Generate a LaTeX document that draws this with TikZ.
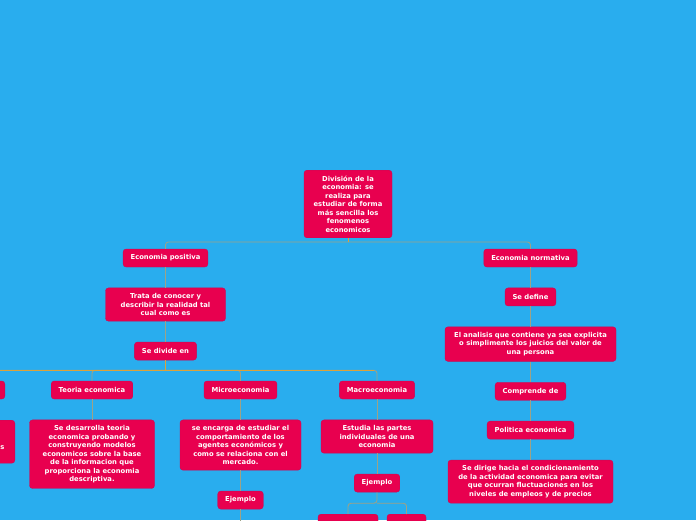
\documentclass[tikz,border=0pt]{standalone}
\usepackage{fontspec}
\newfontfamily\mapfont{DejaVu Sans}
\usetikzlibrary{positioning, calc}
\definecolor{skyblue}{HTML}{29ADEE}
\definecolor{topicred}{HTML}{E8004F}
\definecolor{topicedge}{HTML}{C80A55}
\definecolor{linkgray}{HTML}{9EA286}
\definecolor{linkorange}{HTML}{DCA23A}
\tikzset{
  topic/.style={draw=topicedge, fill=topicred, rounded corners=3pt, text=white, align=center,
    font=\mapfont\bfseries\fontsize{6.8}{8.5}\selectfont, inner xsep=7.5pt, inner ysep=5.5pt, minimum height=18pt},
  link/.style={draw=linkgray, line width=0.9pt, rounded corners=3pt},
  stub/.style={draw=linkorange, line width=0.9pt},
  cut/.style={topic, minimum width=#1}
}

\begin{document}
\begin{tikzpicture}[x=1pt, y=1pt, node distance=20.5pt]
\useasboundingbox (0,0) rectangle (696,-520);
\fill[skyblue] (0,0) rectangle (696,-520);
% root
\node[cut=88pt] (root) at (348,-204) {Divisi\'on de la\\economia: se\\realiza para\\estudiar de forma\\m\'as sencilla los\\fenomenos\\economicos};
% positive branch
\node[topic] (pos) at (165.5,-258) {Economia positiva};
\node[cut=120pt, below=of pos] (trata) {Trata de conocer y\\describir la realidad tal\\cual como es};
\node[topic, below=of trata] (divide) {Se divide en};
\node[cut=80pt, anchor=east] (left1) at (5,-390) {};
\node[topic] (teoria) at (92,-390) {Teoria economica};
\node[topic] (micro) at (240.5,-390) {Microeconomia};
\node[topic] (macro) at (377,-390) {Macroeconomia};
\node[cut=100pt, minimum height=43pt, anchor=north east] (left2) at (15,-420) {};
\node[text=white, inner sep=0pt, font=\mapfont\bfseries\fontsize{6.8}{8.5}\selectfont] (lefts) at (2.5,-448) {s};
\node[cut=125pt, below=of teoria] (teoriadesc) {Se desarrolla teoria\\economica probando y\\construyendo modelos\\economicos sobre la base\\de la informacion que\\proporciona la economia\\descriptiva.};
\node[cut=121pt, below=of micro] (microdesc) {se encarga de estudiar el\\comportamiento de los\\agentes econ\'omicos y\\como se relaciona con el\\mercado.};
\node[topic, below=of microdesc] (microej) {Ejemplo};
\node[cut=112pt, below=of macro] (macrodesc) {Estudia las partes\\individuales de una\\economia};
\node[topic, below=of macrodesc] (macroej) {Ejemplo};
\node[cut=60pt, minimum height=30pt, anchor=north] (macroex1) at (348,-514) {};
\node[cut=39pt, minimum height=30pt, anchor=north] (macroex2) at (406.5,-514) {};
% normative branch
\node[topic] (norm) at (530.5,-258) {Economia normativa};
\node[topic, below=of norm] (define) {Se define};
\node[cut=171pt, below=of define] (analisis) {El analisis que contiene ya sea explicita\\o simplimente los juicios del valor de\\una persona};
\node[topic, below=of analisis] (comprende) {Comprende de};
\node[topic, below=of comprende] (politica) {Politica economica};
\node[cut=165pt, below=of politica] (dirige) {Se dirige hacia el condicionamiento\\de la actividad economica para evitar\\que ocurran fluctuaciones en los\\niveles de empleos y de precios};
% connectors
\coordinate (rootbus) at ($(root.south)+(0,-4)$);
\coordinate (divbus) at ($(divide.south)+(0,-10)$);
\coordinate (macbus) at ($(macroej.south)+(0,-11)$);
\coordinate (microout) at ($(microej.south)+(0,-15)$);
\draw[link] (rootbus) -| (pos.north);
\draw[link] (rootbus) -| (norm.north);
\draw[stub] (root.south) -- (rootbus);
\draw[link] (pos) -- (trata);
\draw[link] (trata) -- (divide);
\draw[link] (divbus) -| (left1.north);
\draw[link] (divbus) -| (teoria.north);
\draw[link] (divbus) -| (micro.north);
\draw[link] (divbus) -| (macro.north);
\draw[stub] (divide.south) -- (divbus);
\draw[stub] (divbus -| 0,0) -- ($(macro.north |- divbus)+(-3,0)$);
\draw[link] (left1) -- (left1 |- left2.north);
\draw[link] (teoria) -- (teoriadesc);
\draw[link] (micro) -- (microdesc);
\draw[link] (microdesc) -- (microej);
\draw[link] (microej) -- (microout);
\draw[link] (macro) -- (macrodesc);
\draw[link] (macrodesc) -- (macroej);
\draw[link] (macroej.south) -- (macbus) -| (macroex1.north);
\draw[link] (macbus) -| (macroex2.north);
\draw[link] (norm) -- (define);
\draw[link] (define) -- (analisis);
\draw[link] (analisis) -- (comprende);
\draw[link] (comprende) -- (politica);
\draw[link] (politica) -- (dirige);
\end{tikzpicture}
\end{document}
